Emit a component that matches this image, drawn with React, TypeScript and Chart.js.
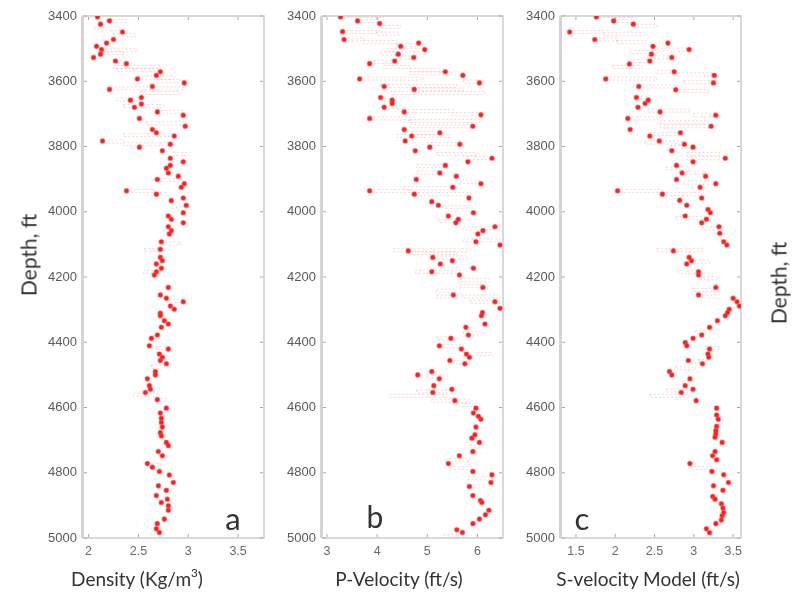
import React, { useEffect, useRef } from "react";
import { Chart, registerables } from "chart.js";

Chart.register(...registerables);

// ---- depth axis ----
const depthTicks = [3400, 3600, 3800, 4000, 4200, 4400, 4600, 4800, 5000];

// ---- panel a: density log ----
const densityTicks = [2, 2.5, 3, 3.5];
const densityDepth = [
  3403, 3415, 3425, 3449, 3472, 3483, 3493, 3503, 3517, 3527, 3538, 3546, 3571, 3582, 3593, 3605, 3616, 3625, 3650, 3658,
  3670, 3680, 3694, 3704, 3714, 3738, 3748, 3758, 3768, 3783, 3793, 3802, 3813, 3836, 3847, 3858, 3867, 3881, 3891, 3901,
  3914, 3925, 3936, 3946, 3958, 3966, 3980, 4003, 4013, 4023, 4034, 4046, 4058, 4068, 4092, 4115, 4140, 4150, 4160, 4173,
  4184, 4194, 4232, 4255, 4265, 4276, 4289, 4299, 4311, 4319, 4334, 4344, 4354, 4378, 4388, 4411, 4421, 4436, 4446, 4456,
  4466, 4490, 4500, 4512, 4533, 4544, 4554, 4576, 4602, 4617, 4633, 4646, 4660, 4677, 4687, 4707, 4717, 4735, 4748, 4772,
  4783, 4796, 4807, 4830, 4840, 4854, 4870, 4881, 4891, 4901, 4915, 4942, 4956, 4972, 4983,
];
const densityValue = [
  2.09, 2.21, 2.12, 2.34, 2.25, 2.18, 2.08, 2.13, 2.12, 2.05, 2.27, 2.38, 2.72, 2.68, 2.49, 2.96, 2.64, 2.21, 2.53, 2.42,
  2.53, 2.46, 2.69, 2.95, 2.51, 2.97, 2.64, 2.68, 2.86, 2.14, 2.82, 2.51, 2.74, 2.82, 2.95, 2.82, 2.78, 2.8, 2.9, 2.69,
  2.96, 2.93, 2.38, 2.68, 2.95, 2.83, 2.98, 2.95, 2.8, 2.83, 2.95, 2.8, 2.83, 2.81, 2.73, 2.72, 2.72, 2.74, 2.68, 2.73,
  2.68, 2.66, 2.8, 2.72, 2.78, 2.95, 2.82, 2.86, 2.72, 2.72, 2.76, 2.8, 2.73, 2.69, 2.63, 2.61, 2.8, 2.71, 2.74, 2.72,
  2.78, 2.67, 2.67, 2.59, 2.61, 2.62, 2.57, 2.69, 2.78, 2.72, 2.73, 2.73, 2.74, 2.72, 2.73, 2.78, 2.8, 2.7, 2.74, 2.59,
  2.64, 2.71, 2.81, 2.85, 2.7, 2.78, 2.68, 2.79, 2.73, 2.8, 2.8, 2.76, 2.69, 2.68, 2.71,
];
const densityBarDepth = [
  3415, 3439, 3459, 3505, 3513, 3556, 3566, 3589, 3599, 3622, 3636, 3656, 3676, 3694, 3729, 3765, 3785, 3793, 3823, 3903,
  3936, 3946, 3990, 4097, 4117, 4184, 4273, 4393, 4418, 4475, 4561, 4576, 4776,
];
const densityBarLo = [
  2.21, 2.06, 2.25, 2.17, 2.15, 2.25, 2.28, 2.5, 2.68, 2.22, 2.52, 2.28, 2.35, 2.69, 2.58, 2.35, 2.15, 2.35, 2.85, 2.72,
  2.38, 2.68, 2.88, 2.81, 2.56, 2.55, 2.81, 2.62, 2.68, 2.63, 2.45, 2.69, 2.6,
];
const densityBarHi = [
  2.38, 2.31, 2.47, 2.49, 2.35, 2.72, 2.7, 2.83, 2.92, 2.95, 2.92, 2.53, 2.75, 2.95, 2.98, 2.85, 2.35, 2.82, 3.0, 2.92,
  2.66, 2.78, 3.02, 2.92, 2.74, 2.72, 2.95, 2.72, 2.82, 2.73, 2.68, 2.78, 2.72,
];

// ---- panel b: P-wave velocity ----
const pVelTicks = [3, 4, 5, 6];
const pVelDepth = [
  3403, 3415, 3423, 3448, 3472, 3483, 3493, 3503, 3517, 3527, 3538, 3546, 3571, 3582, 3593, 3605, 3616, 3625, 3650, 3658,
  3668, 3680, 3694, 3703, 3714, 3738, 3748, 3758, 3768, 3783, 3793, 3802, 3813, 3836, 3847, 3858, 3881, 3891, 3901, 3914,
  3925, 3936, 3946, 3958, 3969, 3980, 4003, 4013, 4023, 4034, 4046, 4058, 4068, 4092, 4102, 4120, 4140, 4150, 4160, 4173,
  4184, 4194, 4232, 4255, 4276, 4296, 4309, 4319, 4344, 4354, 4378, 4388, 4411, 4421, 4436, 4446, 4456, 4466, 4490, 4500,
  4512, 4533, 4544, 4554, 4579, 4602, 4617, 4627, 4636, 4660, 4684, 4694, 4707, 4735, 4748, 4772, 4796, 4806, 4830, 4842,
  4870, 4885, 4891, 4915, 4929, 4942, 4956, 4975, 4983,
];
const pVelValue = [
  3.27, 3.61, 4.05, 3.31, 3.34, 4.83, 4.47, 4.95, 4.42, 4.73, 4.35, 3.85, 5.36, 5.71, 3.65, 6.04, 4.14, 4.74, 4.07, 4.3,
  4.3, 4.14, 4.54, 6.07, 3.85, 5.91, 4.54, 5.25, 4.69, 4.56, 5.65, 5.05, 4.76, 6.29, 5.81, 5.36, 5.25, 5.58, 4.78, 6.07,
  5.51, 3.85, 4.74, 5.83, 5.09, 5.22, 5.92, 5.42, 5.62, 5.57, 6.35, 6.11, 6.01, 5.97, 6.45, 4.62, 5.11, 5.5, 5.26, 5.92,
  5.09, 5.64, 6.11, 5.52, 6.35, 6.45, 6.1, 6.08, 6.15, 5.77, 5.82, 5.47, 5.24, 5.68, 5.78, 5.84, 5.45, 5.75, 5.09, 4.81,
  5.24, 5.13, 5.49, 5.11, 5.55, 5.97, 5.92, 6.02, 6.07, 5.97, 5.95, 5.89, 6.04, 5.91, 5.64, 5.42, 5.91, 6.29, 6.27, 5.84,
  5.91, 6.06, 6.09, 6.23, 6.16, 6.04, 5.91, 5.59, 5.7,
];
const pVelBarDepth = [
  3400, 3415, 3433, 3449, 3454, 3472, 3480, 3490, 3505, 3515, 3527, 3541, 3556, 3566, 3576, 3592, 3601, 3615, 3625, 3636,
  3658, 3680, 3691, 3701, 3714, 3722, 3738, 3758, 3768, 3792, 3823, 3835, 3860, 3880, 3908, 3928, 3936, 3946, 3985, 4028,
  4051, 4088, 4118, 4127, 4140, 4184, 4210, 4228, 4242, 4260, 4276, 4373, 4388, 4412, 4436, 4462, 4505, 4551, 4564, 4579,
  4592, 4719, 4760, 4786, 4817, 4842, 4995,
];
const pVelBarLo = [
  3.28, 3.61, 4.06, 3.32, 3.99, 3.34, 3.73, 4.39, 4.19, 4.06, 4.46, 3.93, 4.13, 4.66, 4.66, 3.65, 5.72, 4.06, 4.73, 4.26,
  4.06, 4.13, 4.54, 5.49, 3.85, 4.66, 4.66, 4.69, 4.39, 4.99, 5.19, 5.79, 4.79, 4.79, 5.69, 4.53, 3.85, 4.74, 5.32, 5.22,
  5.72, 5.72, 4.33, 4.73, 5.11, 4.76, 5.66, 5.66, 5.19, 5.19, 5.85, 5.72, 5.19, 5.24, 5.99, 5.52, 4.99, 4.79, 4.26, 5.09,
  5.59, 5.85, 5.45, 5.45, 5.82, 5.85, 5.32,
];
const pVelBarHi = [
  4.13, 4.06, 4.46, 3.99, 4.43, 3.73, 4.39, 4.79, 4.96, 4.39, 4.73, 4.36, 4.66, 5.36, 5.72, 4.92, 6.12, 5.58, 5.72, 6.15,
  4.33, 4.53, 5.52, 6.07, 4.66, 6.09, 5.91, 5.25, 5.45, 5.65, 5.99, 6.28, 5.36, 5.25, 6.05, 5.51, 4.66, 5.86, 5.85, 5.59,
  6.45, 6.45, 5.79, 5.59, 5.79, 5.66, 6.25, 6.12, 5.56, 6.45, 6.45, 6.12, 5.59, 5.72, 6.29, 5.85, 5.39, 5.39, 5.56, 5.85,
  5.99, 6.12, 5.85, 5.92, 6.28, 6.12, 5.62,
];

// ---- panel c: S-wave velocity model ----
const sVelTicks = [1.5, 2, 2.5, 3, 3.5];
const sVelDepth = [
  3403, 3415, 3425, 3449, 3472, 3483, 3493, 3503, 3517, 3527, 3538, 3547, 3571, 3582, 3593, 3605, 3616, 3626, 3650, 3658,
  3668, 3680, 3694, 3704, 3714, 3738, 3748, 3758, 3768, 3783, 3793, 3802, 3813, 3836, 3847, 3858, 3881, 3891, 3901, 3914,
  3925, 3936, 3946, 3958, 3965, 3980, 3993, 4003, 4013, 4023, 4034, 4046, 4066, 4092, 4102, 4120, 4140, 4150, 4160, 4184,
  4194, 4232, 4255, 4265, 4276, 4289, 4299, 4309, 4319, 4334, 4354, 4378, 4388, 4401, 4411, 4421, 4436, 4446, 4456, 4466,
  4490, 4500, 4512, 4533, 4544, 4554, 4579, 4602, 4623, 4636, 4658, 4671, 4681, 4691, 4707, 4735, 4748, 4760, 4772, 4796,
  4806, 4830, 4840, 4854, 4873, 4881, 4895, 4908, 4922, 4932, 4945, 4956, 4972, 4984,
];
const sVelValue = [
  1.76, 1.98, 2.23, 1.42, 1.74, 2.67, 2.48, 2.94, 2.46, 2.72, 2.44, 2.18, 2.75, 3.26, 1.88, 3.25, 2.3, 2.77, 2.27, 2.42,
  2.38, 2.29, 2.57, 3.28, 2.16, 3.22, 2.19, 2.83, 2.44, 2.56, 2.88, 2.99, 2.72, 3.4, 2.99, 2.78, 2.85, 3.15, 2.78, 3.28,
  3.08, 2.03, 2.6, 3.1, 2.82, 2.91, 3.18, 3.21, 2.89, 3.16, 3.1, 3.32, 3.33, 3.38, 3.42, 2.74, 2.94, 2.97, 2.91, 3.06,
  3.06, 3.28, 3.06, 3.5, 3.55, 3.58, 3.45, 3.43, 3.4, 3.3, 3.2, 3.1, 2.99, 2.89, 2.91, 3.2, 3.18, 3.19, 2.93, 3.11,
  2.69, 2.72, 2.95, 2.89, 2.99, 2.84, 3.03, 3.29, 3.29, 3.31, 3.29, 3.28, 3.28, 3.27, 3.36, 3.27, 3.24, 3.29, 2.95, 3.23,
  3.38, 3.44, 3.25, 3.37, 3.24, 3.27, 3.35, 3.37, 3.38, 3.36, 3.35, 3.28, 3.16, 3.2,
];
const sVelBarDepth = [
  3400, 3415, 3431, 3449, 3456, 3472, 3480, 3503, 3510, 3527, 3538, 3556, 3571, 3579, 3592, 3603, 3616, 3630, 3650, 3690,
  3704, 3714, 3726, 3738, 3762, 3788, 3802, 3823, 3836, 3867, 3880, 3911, 3936, 3946, 4020, 4051, 4118, 4153, 4184, 4204,
  4240, 4260, 4367, 4418, 4458, 4480, 4548, 4564, 4786,
];
const sVelBarLo = [
  1.76, 1.98, 2.23, 1.42, 1.85, 1.74, 2.02, 2.53, 2.19, 2.4, 2.23, 1.97, 2.53, 2.75, 1.88, 2.87, 2.23, 2.77, 2.23, 2.42,
  2.99, 2.16, 2.57, 2.57, 2.44, 2.38, 2.7, 2.91, 2.91, 2.65, 2.85, 2.87, 2.03, 2.6, 2.77, 3.11, 2.53, 3.02, 2.81, 3.07,
  2.99, 3.11, 3.02, 3.15, 2.95, 2.77, 2.65, 2.44, 2.95,
];
const sVelBarHi = [
  2.28, 2.23, 2.53, 1.85, 2.4, 2.02, 2.4, 2.94, 2.53, 2.72, 2.44, 2.35, 2.75, 3.26, 2.53, 3.25, 2.77, 3.19, 2.4, 2.95,
  3.28, 2.57, 3.19, 3.22, 2.84, 2.84, 2.99, 3.33, 3.33, 2.95, 3.15, 3.29, 2.6, 3.1, 3.15, 3.32, 3.11, 3.2, 3.07, 3.32,
  3.32, 3.32, 3.28, 3.32, 3.15, 3.02, 2.95, 2.95, 3.29,
];

const TEXT_FONT = 'Lato, "Open Sans", "Noto Sans", sans-serif';
const TICK_FONT = '"Liberation Sans", Arial, sans-serif';

// Box around the plot area with small inward tick marks on all four sides.
const framePlugin = {
  id: "frameBox",
  beforeDatasetsDraw(chart: any) {
    const { ctx, chartArea: a, scales } = chart;
    ctx.save();
    ctx.strokeStyle = "#cdcdcd";
    ctx.lineWidth = 1.5;
    ctx.strokeRect(a.left, a.top, a.right - a.left, a.bottom - a.top);
    ctx.strokeStyle = "#d4d4d4";
    ctx.lineWidth = 3;
    ctx.beginPath();
    ctx.moveTo(a.left - 0.5, a.top);
    ctx.lineTo(a.left - 0.5, a.bottom);
    ctx.stroke();
    ctx.strokeStyle = "#a8a8a8";
    ctx.lineWidth = 1;
    ctx.beginPath();
    scales.y.ticks.forEach((t: any) => {
      const y = scales.y.getPixelForValue(t.value);
      ctx.moveTo(a.left + 1, y);
      ctx.lineTo(a.left + 4, y);
      ctx.moveTo(a.right - 4, y);
      ctx.lineTo(a.right - 1, y);
    });
    scales.x.ticks.forEach((t: any) => {
      const x = scales.x.getPixelForValue(t.value);
      ctx.moveTo(x, a.bottom - 1);
      ctx.lineTo(x, a.bottom - 4);
      ctx.moveTo(x, a.top + 1);
      ctx.lineTo(x, a.top + 4);
    });
    ctx.stroke();
    ctx.restore();
  },
};

// Faint horizontal uncertainty bars drawn under the samples.
const barsPlugin = {
  id: "rangeBars",
  beforeDatasetsDraw(chart: any, _args: any, opts: any) {
    const { ctx, chartArea: a, scales } = chart;
    const { depth, lo, hi } = opts;
    if (!depth) return;
    ctx.save();
    ctx.beginPath();
    ctx.rect(a.left, a.top, a.right - a.left, a.bottom - a.top);
    ctx.clip();
    ctx.strokeStyle = "rgba(255, 90, 90, 0.26)";
    ctx.lineWidth = 1;
    ctx.setLineDash([2, 2]);
    depth.forEach((d: number, i: number) => {
      const y = scales.y.getPixelForValue(d);
      const x1 = scales.x.getPixelForValue(lo[i]);
      const x2 = scales.x.getPixelForValue(hi[i]);
      ctx.strokeRect(x1, y - 1.5, x2 - x1, 3);
    });
    ctx.restore();
  },
};

type PanelProps = {
  left: number;
  width: number;
  yAxisWidth: number;
  padRight: number;
  depth: number[];
  values: number[];
  barDepth: number[];
  barLo: number[];
  barHi: number[];
  xMin: number;
  xMax: number;
  xTicks: number[];
};

function Panel(p: PanelProps) {
  const ref = useRef<HTMLCanvasElement | null>(null);
  useEffect(() => {
    if (!ref.current) return;
    const chart = new Chart(ref.current, {
      type: "scatter",
      data: {
        datasets: [
          {
            data: p.depth.map((d, i) => ({ x: p.values[i], y: d })),
            pointRadius: 2.3,
            pointHoverRadius: 2.3,
            pointBackgroundColor: "#ff1e1e",
            pointBorderColor: "rgba(255, 70, 70, 0.5)",
            pointBorderWidth: 1.1,
            showLine: false,
          },
        ],
      },
      options: {
        animation: false,
        responsive: false,
        maintainAspectRatio: false,
        events: [],
        layout: { padding: { top: 16, right: p.padRight, left: 0, bottom: 0 } },
        plugins: {
          legend: { display: false },
          tooltip: { enabled: false },
          rangeBars: { depth: p.barDepth, lo: p.barLo, hi: p.barHi },
        } as any,
        scales: {
          x: {
            type: "linear",
            position: "bottom",
            min: p.xMin,
            max: p.xMax,
            afterBuildTicks: (s: any) => {
              s.ticks = p.xTicks.map((v) => ({ value: v }));
            },
            afterFit: (s: any) => {
              s.height = 63;
            },
            grid: { display: false, drawTicks: false, tickLength: 0 },
            border: { display: false },
            ticks: {
              padding: 6,
              color: "#6a6a6a",
              font: { family: TICK_FONT, size: 12.5 },
              callback: (v: any) => String(v),
            },
          },
          y: {
            type: "linear",
            reverse: true,
            min: 3400,
            max: 5000,
            afterBuildTicks: (s: any) => {
              s.ticks = depthTicks.map((v) => ({ value: v }));
            },
            afterFit: (s: any) => {
              s.width = p.yAxisWidth;
            },
            grid: { display: false, drawTicks: false, tickLength: 0 },
            border: { display: false },
            ticks: {
              padding: 6,
              color: "#5a5a5a",
              font: { family: TICK_FONT, size: 13 },
              callback: (v: any) => String(v),
            },
          },
        },
      },
      plugins: [framePlugin, barsPlugin],
    } as any);
    return () => chart.destroy();
  }, []);
  return (
    <canvas
      ref={ref}
      width={p.width}
      height={601}
      style={{ position: "absolute", left: p.left, top: 0, width: p.width, height: 601 }}
    />
  );
}

function Label(props: { x: number; y: number; size: number; rotate?: boolean; children: React.ReactNode }) {
  return (
    <div
      style={{
        position: "absolute",
        left: props.x,
        top: props.y,
        transform: `translate(-50%, -50%)${props.rotate ? " rotate(-90deg)" : ""}`,
        fontFamily: TEXT_FONT,
        fontSize: props.size,
        lineHeight: 1,
        color: "#333",
        whiteSpace: "nowrap",
      }}
    >
      {props.children}
    </div>
  );
}

export default function App() {
  return (
    <div
      style={{ position: "absolute", left: 0, top: 0, width: 798, height: 601, background: "#fff", overflow: "hidden" }}
    >
      <Panel
        left={0}
        width={272}
        yAxisWidth={83}
        padRight={8}
        depth={densityDepth}
        values={densityValue}
        barDepth={densityBarDepth}
        barLo={densityBarLo}
        barHi={densityBarHi}
        xMin={1.944}
        xMax={3.76}
        xTicks={densityTicks}
      />
      <Panel
        left={272}
        width={238}
        yAxisWidth={50}
        padRight={7}
        depth={pVelDepth}
        values={pVelValue}
        barDepth={pVelBarDepth}
        barLo={pVelBarLo}
        barHi={pVelBarHi}
        xMin={2.9}
        xMax={6.51}
        xTicks={pVelTicks}
      />
      <Panel
        left={510}
        width={288}
        yAxisWidth={51}
        padRight={57}
        depth={sVelDepth}
        values={sVelValue}
        barDepth={sVelBarDepth}
        barLo={sVelBarLo}
        barHi={sVelBarHi}
        xMin={1.31}
        xMax={3.6}
        xTicks={sVelTicks}
      />
      <Label x={28} y={255} size={21} rotate>
        Depth, ft
      </Label>
      <Label x={778} y={283} size={21} rotate>
        Depth, ft
      </Label>
      <Label x={137} y={578} size={19}>
        Density (Kg/m<sup style={{ fontSize: "0.62em", lineHeight: 0, verticalAlign: "0.7em" }}>3</sup>)
      </Label>
      <Label x={399} y={578} size={19}>
        P-Velocity (ft/s)
      </Label>
      <Label x={648} y={578} size={19}>
        S-velocity Model (ft/s)
      </Label>
      <Label x={233} y={518} size={31}>
        a
      </Label>
      <Label x={375} y={516} size={30}>
        b
      </Label>
      <Label x={582} y={518} size={31}>
        c
      </Label>
    </div>
  );
}
